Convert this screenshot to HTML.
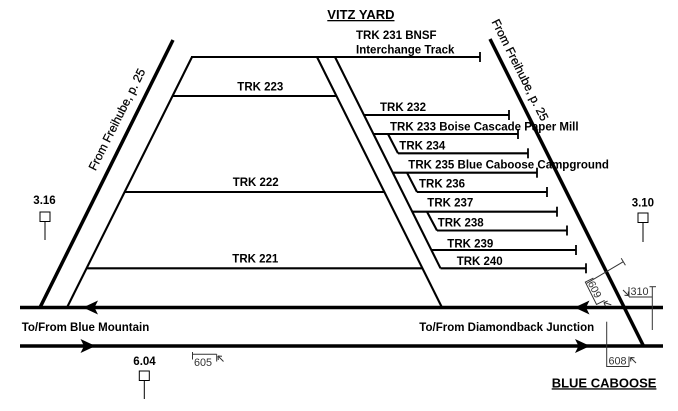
<!DOCTYPE html>
<html>
<head>
<meta charset="utf-8">
<style>
  html,body{margin:0;padding:0;background:#fff;}
  svg{display:block;}
  .b{font-family:"Liberation Sans",Arial,sans-serif;font-weight:bold;font-size:11.5px;fill:#000;}
  .t{font-family:"Liberation Sans",Arial,sans-serif;font-size:12px;fill:#000;stroke:#000;stroke-width:0.25;}
  .s{font-family:"Liberation Sans",Arial,sans-serif;font-size:10.8px;fill:#333;}
  .h{font-family:"Liberation Sans",Arial,sans-serif;font-weight:bold;font-size:13px;fill:#000;text-decoration:underline;}
</style>
</head>
<body>
<svg width="678" height="411" viewBox="0 0 678 411" xmlns="http://www.w3.org/2000/svg">
  <rect width="678" height="411" fill="#fff"/>

  <!-- thick outer diagonals -->
  <g stroke="#000" stroke-width="3.5" fill="none" stroke-linecap="butt">
    <line x1="173" y1="40" x2="40" y2="307.5"/>
    <line x1="490" y1="39" x2="643.5" y2="346"/>
    <!-- main lines -->
    <line x1="20" y1="307.5" x2="663" y2="307.5"/>
    <line x1="20" y1="346" x2="663" y2="346"/>
  </g>

  <!-- thin yard lines -->
  <g stroke="#000" stroke-width="2.1" fill="none">
    <line x1="192" y1="57" x2="67" y2="307.5"/>
    <line x1="191" y1="57" x2="480" y2="57"/>
    <line x1="317" y1="57" x2="442" y2="307.5"/>
    <line x1="335" y1="57" x2="440.5" y2="268.3"/>
    <line x1="172.5" y1="96" x2="336.5" y2="96"/>
    <line x1="124.5" y1="192" x2="384.5" y2="192"/>
    <line x1="86.5" y1="268.3" x2="422.5" y2="268.3"/>
    <line x1="364" y1="115" x2="509" y2="115"/>
    <line x1="373.5" y1="134" x2="518" y2="134"/>
    <line x1="388" y1="134" x2="398" y2="153.3"/>
    <line x1="398" y1="153.3" x2="528" y2="153.3"/>
    <line x1="393" y1="172.7" x2="537" y2="172.7"/>
    <line x1="407" y1="172.7" x2="417" y2="192"/>
    <line x1="417" y1="192" x2="547" y2="192"/>
    <line x1="412" y1="211.7" x2="557" y2="211.7"/>
    <line x1="427" y1="211.7" x2="437" y2="230.5"/>
    <line x1="437" y1="230.5" x2="567" y2="230.5"/>
    <line x1="431.5" y1="250" x2="576" y2="250"/>
    <line x1="440.5" y1="268.3" x2="586" y2="268.3"/>
  </g>

  <!-- end ticks -->
  <g stroke="#000" stroke-width="1.8">
    <line x1="480" y1="52" x2="480" y2="62"/>
    <line x1="509" y1="110" x2="509" y2="120"/>
    <line x1="518" y1="129" x2="518" y2="139"/>
    <line x1="528" y1="148.3" x2="528" y2="158.3"/>
    <line x1="537" y1="167.7" x2="537" y2="177.7"/>
    <line x1="547" y1="187" x2="547" y2="197"/>
    <line x1="557" y1="206.7" x2="557" y2="216.7"/>
    <line x1="567" y1="225.5" x2="567" y2="235.5"/>
    <line x1="576" y1="245" x2="576" y2="255"/>
    <line x1="586" y1="263.3" x2="586" y2="273.3"/>
  </g>

  <!-- arrowheads -->
  <g fill="#000">
    <path d="M83,307.5 L98,300.5 L94.5,307.5 L98,314.5 Z"/>
    <path d="M574.5,307.5 L589.5,300.5 L586,307.5 L589.5,314.5 Z"/>
    <path d="M95.5,346 L80.5,339 L84,346 L80.5,353 Z"/>
    <path d="M590,346 L575,339 L578.5,346 L575,353 Z"/>
  </g>

  <!-- signals -->
  <g stroke="#000" stroke-width="1" fill="#fff">
    <rect x="40" y="212" width="10" height="9.5"/>
    <line x1="45" y1="221.5" x2="45" y2="240"/>
    <rect x="638" y="213" width="10" height="9.5"/>
    <line x1="643" y1="222.5" x2="643" y2="242"/>
    <rect x="139.3" y="371" width="10" height="9.5"/>
    <line x1="144.3" y1="380.5" x2="144.3" y2="399"/>
  </g>

  <!-- mileposts / small markers -->
  <g stroke="#333" stroke-width="1" fill="none">
    <line x1="192.5" y1="352" x2="192.5" y2="359.5"/>
    <line x1="192.5" y1="354.3" x2="216.7" y2="354.3"/>
    <line x1="216.7" y1="354.3" x2="216.7" y2="361.5"/>
    <path d="M218,356 L223.5,361.5 M218,356 L222,356.3 M218,356 L218.3,360"/>
    <line x1="606.7" y1="321.7" x2="606.7" y2="367"/>
    <line x1="606.7" y1="366.5" x2="629" y2="366.5"/>
    <line x1="629" y1="356.5" x2="629" y2="366.5"/>
    <path d="M630.5,357.5 L636,363 M630.5,357.5 L634.5,357.8 M630.5,357.5 L630.8,361.5"/>
    <line x1="652.3" y1="286.7" x2="652.3" y2="330"/>
    <line x1="649.5" y1="286.7" x2="656" y2="286.7"/>
    <line x1="629" y1="297" x2="652.3" y2="297"/>
    <line x1="629" y1="287" x2="629" y2="297"/>
    <path d="M623,290 L628.5,295.5 M628.5,295.5 L624.5,295.3 M628.5,295.5 L628.3,291.5"/>
    <line x1="586.7" y1="283.3" x2="623.3" y2="261.7"/>
    <line x1="621.2" y1="258.2" x2="625.4" y2="265.2"/>
    <g transform="translate(592.5,278.5) rotate(63.4)">
      <path d="M0,-1 L0,8 L25,8 L25,-1 M26.5,0.5 L32,-5 M26.5,0.5 L27,-3.5 M26.5,0.5 L30.5,0.8"/>
    </g>
  </g>
  <g transform="translate(592.5,278.5) rotate(63.4)">
    <text class="s" x="2" y="6.5" style="font-size:10.5px">609</text>
  </g>
  <text class="s" x="194" y="366">605</text>
  <text class="s" x="608.5" y="364.5">608</text>
  <text class="s" x="630.5" y="295">310</text>

  <!-- headings -->
  <text class="h" x="327.3" y="19">VITZ YARD</text>
  <text class="h" x="551.7" y="387.3">BLUE CABOOSE</text>

  <!-- track labels -->
  <text class="b" x="356" y="39">TRK 231 BNSF</text>
  <text class="b" x="356" y="53.5">Interchange Track</text>
  <text class="b" x="237.3" y="90.7">TRK 223</text>
  <text class="b" x="380" y="111">TRK 232</text>
  <text class="b" x="390" y="130.3">TRK 233 Boise Cascade Paper Mill</text>
  <text class="b" x="399.3" y="149.3">TRK 234</text>
  <text class="b" x="408.3" y="168.3">TRK 235 Blue Caboose Campground</text>
  <text class="b" x="419" y="187.7">TRK 236</text>
  <text class="b" x="232.7" y="186">TRK 222</text>
  <text class="b" x="427.3" y="206.7">TRK 237</text>
  <text class="b" x="437.7" y="226.7">TRK 238</text>
  <text class="b" x="447.3" y="247.5">TRK 239</text>
  <text class="b" x="456.7" y="264.8">TRK 240</text>
  <text class="b" x="232.3" y="262.7">TRK 221</text>

  <text class="b" x="33.3" y="204">3.16</text>
  <text class="b" x="631.7" y="206.7">3.10</text>
  <text class="b" x="133.3" y="365">6.04</text>

  <text class="b" x="21.7" y="331">To/From Blue Mountain</text>
  <text class="b" x="419.3" y="331">To/From Diamondback Junction</text>

  <!-- rotated labels -->
  <text class="t" x="117" y="119.5" text-anchor="middle" dominant-baseline="central" transform="rotate(-63.4 117 119.5)">From Freihube, p. 25</text>
  <text class="t" x="520" y="70" text-anchor="middle" dominant-baseline="central" transform="rotate(63.4 520 70)">From Freihube, p. 25</text>
</svg>
</body>
</html>
